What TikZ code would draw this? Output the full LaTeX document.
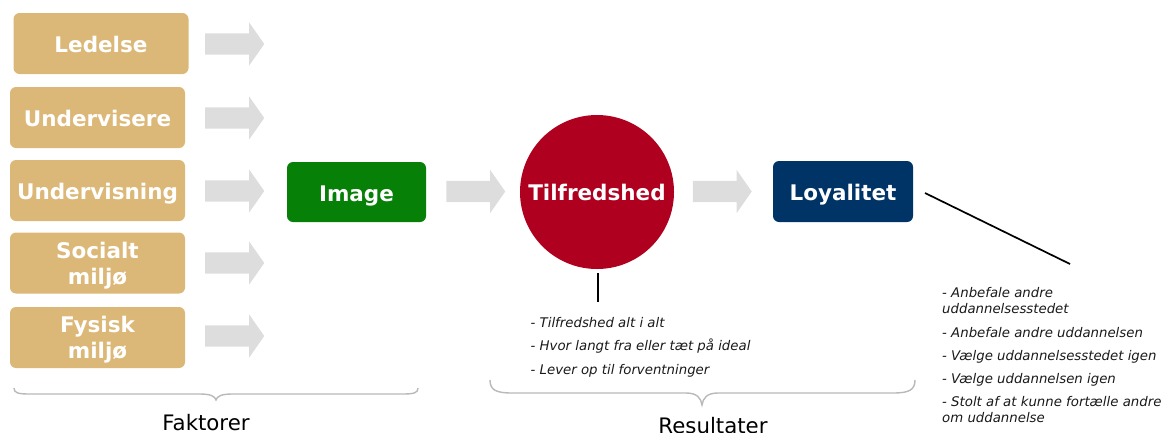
\documentclass[tikz,border=0pt]{standalone}
\usepackage{fontspec}
\setmainfont{DejaVu Sans}
\usetikzlibrary{shapes.arrows}
\definecolor{tanbox}{RGB}{220,184,120}
\definecolor{imggreen}{RGB}{7,128,7}
\definecolor{tfred}{RGB}{176,0,32}
\definecolor{loynavy}{RGB}{0,51,102}
\definecolor{arrowgray}{RGB}{221,221,221}
\definecolor{bracegray}{RGB}{185,185,185}
\definecolor{listblack}{RGB}{25,25,25}
\tikzset{
  boxfont/.style={font=\bfseries\fontsize{21.5}{26}\selectfont},
  oneline/.style={text height=18.5pt, text depth=0pt},
  factor/.style={fill=tanbox, rounded corners=6pt, minimum width=175pt, minimum height=61pt, inner sep=0pt, text=white, boxfont, align=center},
  mainbox/.style={rounded corners=6pt, minimum width=139pt, minimum height=60pt, inner sep=0pt, text=white, boxfont, oneline},
  garrow/.style={single arrow, fill=arrowgray, draw=none, inner xsep=0pt, inner ysep=10.5pt, single arrow head extend=11pt, single arrow tip angle=110, minimum height=59pt},
  listtext/.style={inner sep=0pt, align=left, text=listblack, font=\itshape\fontsize{13.3}{16}\selectfont},
  bracestyle/.style={draw=bracegray, line width=1.4pt},
  pointer/.style={line width=1.7pt, black},
  grouplabel/.style={inner sep=0pt, font=\fontsize{21.3}{24}\selectfont, text=black}
}
\begin{document}
\begin{tikzpicture}[x=1pt,y=-1pt]
\useasboundingbox (0,0) rectangle (1165,432);
% factor boxes
\node[factor, oneline] (led) at (101,43.5) {Ledelse};
\node[factor, oneline] (udv) at (97.5,117.5) {Undervisere};
\node[factor, oneline] (udn) at (97.5,190.5) {Undervisning};
\node[factor, text depth=0pt] (soc) at (97.5,263) {Socialt\\miljø};
\node[factor, text depth=0pt] (fys) at (97.5,337.5) {Fysisk\\miljø};
% block arrows
\node[garrow] (a1) at (231,44) {};
\node[garrow] (a2) at (231,118) {};
\node[garrow] (a3) at (231,191) {};
\node[garrow] (a4) at (231,263) {};
\node[garrow] (a5) at (231,336) {};
% main chain
\node[mainbox, fill=imggreen] (img) at (356.5,192) {Image};
\node[garrow] (a6) at (472,191.5) {};
\node[circle, fill=tfred, minimum size=154pt, inner sep=0pt, text=white, boxfont, text height=17pt, text depth=0pt] (tf) at (597,192) {Tilfredshed};
\node[garrow] (a7) at (718.5,191.5) {};
\node[mainbox, fill=loynavy, minimum width=140pt, minimum height=61pt, text height=17pt] (loy) at (843,191.5) {Loyalitet};
% lists
\node[listtext, anchor=north west] (tflist) at (530.5,317) {- Tilfredshed alt i alt\\[7.5pt]- Hvor langt fra eller tæt på ideal\\[7.5pt]- Lever op til forventninger};
\node[listtext, anchor=north west] (loylist) at (942,287) {- Anbefale andre\\uddannelsesstedet\\[8pt]- Anbefale andre uddannelsen\\[7pt]- Vælge uddannelsesstedet igen\\[7pt]- Vælge uddannelsen igen\\[7pt]- Stolt af at kunne fortælle andre\\om uddannelse};
% pointer lines
\coordinate (tfend) at (598,302);
\draw[pointer] ([yshift=-4pt]tf.south -| tfend) -- (tfend);
\coordinate (loystart) at (925,193);
\coordinate (loyend) at (1070,264);
\draw[pointer] (loystart) -- (loyend);
% braces
\draw[bracestyle] (14,388) .. controls (14,393) and (18,394) .. (30,394) -- (200,394) .. controls (210,394) and (215,396) .. (216,400) .. controls (217,396) and (222,394) .. (232,394) -- (402,394) .. controls (414,394) and (418,393) .. (418,388);
\draw[bracestyle] (490,380) .. controls (490,390) and (496,393) .. (512,393) -- (686,393) .. controls (697,393) and (701,398) .. (702,405) .. controls (703,398) and (707,393) .. (718,393) -- (893,393) .. controls (909,393) and (915,390) .. (915,380);
\node[grouplabel, anchor=base] (fak) at (206,430) {Faktorer};
\node[grouplabel, anchor=base] (res) at (713,433) {Resultater};
\end{tikzpicture}
\end{document}
